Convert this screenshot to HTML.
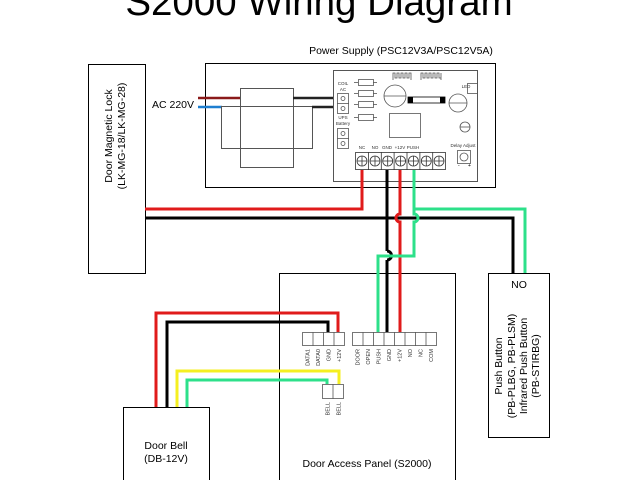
<!DOCTYPE html>
<html><head><meta charset="utf-8"><style>
html,body{margin:0;padding:0;background:#fff;}
svg{display:block;font-family:"Liberation Sans",Arial,sans-serif;}
</style></head><body>
<svg width="640" height="480" viewBox="0 0 640 480" xmlns="http://www.w3.org/2000/svg">
<rect width="640" height="480" fill="#fff"/>
<text x="319" y="15" font-size="38.5" text-anchor="middle" fill="#000">S2000 Wiring Diagram</text>
<text x="401" y="54" font-size="10.5" text-anchor="middle" fill="#000">Power Supply (PSC12V3A/PSC12V5A)</text>

<!-- Lock -->
<rect x="88.5" y="64.5" width="57" height="209" fill="#fff" stroke="#000" stroke-width="1"/>
<g transform="translate(116,136) rotate(-90)" font-size="10.5" text-anchor="middle">
<text x="0" y="-4">Door Magnetic Lock</text>
<text x="0" y="9">(LK-MG-18/LK-MG-28)</text>
</g>

<!-- Power supply -->
<rect x="205.5" y="63.5" width="290" height="124" fill="#fff" stroke="#000" stroke-width="1"/>
<text x="152" y="108" font-size="10.5">AC 220V</text>
<line x1="198" y1="98" x2="240" y2="98" stroke="#8b1a1a" stroke-width="2.5"/>
<line x1="198" y1="107" x2="222" y2="107" stroke="#1e7fd0" stroke-width="2.5"/>
<rect x="240.5" y="88.5" width="53" height="79" fill="none" stroke="#555" stroke-width="1"/>
<rect x="221.5" y="106.5" width="91" height="42" fill="none" stroke="#555" stroke-width="1"/>
<line x1="293" y1="98" x2="338" y2="98" stroke="#222" stroke-width="2.5"/>
<line x1="312" y1="107" x2="338" y2="107" stroke="#222" stroke-width="2.5"/>

<!-- PCB -->
<rect x="333.5" y="70.5" width="144" height="111" fill="#fff" stroke="#555" stroke-width="1"/>
<g font-size="4.5" text-anchor="middle" fill="#333">
<text x="343" y="85">COIL</text><text x="343" y="91">AC</text>
<text x="343" y="119">UPS</text><text x="343" y="125">Battery</text>
<text x="466" y="88">LED</text>
<text x="463" y="147">Delay Adjust</text>
<text x="426" y="102">FUSE</text>
<text x="362" y="149">NC</text><text x="375" y="149">NO</text><text x="387" y="149">GND</text><text x="400" y="149">+12V</text><text x="413" y="149">PUSH</text>
</g>
<g fill="none" stroke="#555" stroke-width="0.8">
<rect x="337.5" y="93.5" width="11" height="20"/><line x1="337" y1="103.5" x2="349" y2="103.5"/>
<circle cx="343" cy="98.5" r="2"/><circle cx="343" cy="108.5" r="2"/>
<rect x="337.5" y="128.5" width="11" height="20"/><line x1="337" y1="138.5" x2="349" y2="138.5"/>
<circle cx="343" cy="133.5" r="2"/><circle cx="343" cy="143.5" r="2"/>
<rect x="358.5" y="79.5" width="15" height="6"/><rect x="358.5" y="90.5" width="15" height="6"/>
<rect x="358.5" y="101.5" width="15" height="6"/><rect x="358.5" y="114.5" width="15" height="6"/>
<line x1="354" y1="82.5" x2="358" y2="82.5"/><line x1="373" y1="82.5" x2="377" y2="82.5"/>
<line x1="354" y1="93.5" x2="358" y2="93.5"/><line x1="373" y1="93.5" x2="377" y2="93.5"/>
<line x1="354" y1="104.5" x2="358" y2="104.5"/><line x1="373" y1="104.5" x2="377" y2="104.5"/>
<line x1="354" y1="117.5" x2="358" y2="117.5"/><line x1="373" y1="117.5" x2="377" y2="117.5"/>
<circle cx="395" cy="96" r="11"/><line x1="384" y1="96" x2="406" y2="96"/>
<circle cx="458" cy="103" r="9"/><line x1="449" y1="103" x2="467" y2="103"/>
<circle cx="465" cy="127" r="5"/><line x1="460" y1="127" x2="470" y2="127"/>
<rect x="467.5" y="83.5" width="10" height="10"/>
<rect x="389.5" y="113.5" width="31" height="24"/>
<rect x="457.5" y="150.5" width="13" height="13"/><circle cx="464" cy="157" r="4"/>
<path d="M393 80 V73 h2 v5 h2 v-5 h2 v5 h2 v-5 h2 v5 h2 v-5 h2 v5 h2 v-5 h2 v7 M421 80 V73 h2 v5 h2 v-5 h2 v5 h2 v-5 h2 v5 h2 v-5 h2 v5 h2 v-5 h2 v5 h2 v-5 v7"/>
</g>
<rect x="408" y="97" width="37" height="6" fill="#fff" stroke="#000" stroke-width="0.8"/>
<rect x="408" y="97" width="5" height="6" fill="#000"/><rect x="440" y="97" width="5" height="6" fill="#000"/>
<text x="458" y="167" font-size="5">-</text><text x="468" y="167" font-size="5">+</text>
<g fill="#fff" stroke="#333" stroke-width="0.8">
<rect x="355.5" y="152.5" width="90" height="17"/>
</g>
<g fill="none" stroke="#333" stroke-width="0.8">
<line x1="368.4" y1="152" x2="368.4" y2="170"/><line x1="381.3" y1="152" x2="381.3" y2="170"/><line x1="394.1" y1="152" x2="394.1" y2="170"/><line x1="407" y1="152" x2="407" y2="170"/><line x1="419.9" y1="152" x2="419.9" y2="170"/><line x1="432.7" y1="152" x2="432.7" y2="170"/>
<circle cx="362" cy="161" r="5"/><circle cx="375" cy="161" r="5"/><circle cx="387.7" cy="161" r="5"/><circle cx="400.6" cy="161" r="5"/><circle cx="413.4" cy="161" r="5"/><circle cx="426.3" cy="161" r="5"/><circle cx="439" cy="161" r="5"/>
<path d="M357 161h10M362 156v10M370 161h10M375 156v10M382.7 161h10M387.7 156v10M395.6 161h10M400.6 156v10M408.4 161h10M413.4 156v10M421.3 161h10M426.3 156v10M434 161h10M439 156v10"/>
</g>

<!-- Push button -->
<rect x="488.5" y="273.5" width="61" height="164" fill="#fff" stroke="#000" stroke-width="1"/>
<text x="519" y="288" font-size="10.5" text-anchor="middle">NO</text>
<g transform="translate(516,366) rotate(-90)" font-size="10.5" text-anchor="middle">
<text x="0" y="-14">Push Button</text>
<text x="0" y="-1">(PB-PLBG, PB-PLSM)</text>
<text x="0" y="11">Infrared Push Button</text>
<text x="0" y="23">(PB-STIRBG)</text>
</g>

<!-- Access panel -->
<rect x="279.5" y="273.5" width="176" height="220" fill="#fff" stroke="#000" stroke-width="1"/>
<text x="367" y="467" font-size="10.5" text-anchor="middle">Door Access Panel (S2000)</text>
<g fill="#fff" stroke="#555" stroke-width="0.8">
<rect x="352.5" y="332.5" width="84" height="13"/>
<rect x="302.5" y="332.5" width="42" height="13"/>
<rect x="322.5" y="384.5" width="21" height="14"/>
</g>
<g stroke="#555" stroke-width="0.8">
<line x1="363" y1="332" x2="363" y2="346"/><line x1="373.5" y1="332" x2="373.5" y2="346"/><line x1="384" y1="332" x2="384" y2="346"/><line x1="394.5" y1="332" x2="394.5" y2="346"/><line x1="405" y1="332" x2="405" y2="346"/><line x1="415.5" y1="332" x2="415.5" y2="346"/><line x1="426" y1="332" x2="426" y2="346"/>
<line x1="313" y1="332" x2="313" y2="346"/><line x1="323.5" y1="332" x2="323.5" y2="346"/><line x1="334" y1="332" x2="334" y2="346"/>
<line x1="333" y1="384" x2="333" y2="399"/>
</g>
<g font-size="5.5" fill="#333">
<text transform="translate(359.5,349) rotate(-90)" text-anchor="end">DOOR</text>
<text transform="translate(370,349) rotate(-90)" text-anchor="end">OPEN</text>
<text transform="translate(380.5,349) rotate(-90)" text-anchor="end">PUSH</text>
<text transform="translate(391,349) rotate(-90)" text-anchor="end">GND</text>
<text transform="translate(401.5,349) rotate(-90)" text-anchor="end">+12V</text>
<text transform="translate(412,349) rotate(-90)" text-anchor="end">NO</text>
<text transform="translate(422.5,349) rotate(-90)" text-anchor="end">NC</text>
<text transform="translate(433,349) rotate(-90)" text-anchor="end">COM</text>
<text transform="translate(309.5,349) rotate(-90)" text-anchor="end">DATA1</text>
<text transform="translate(320,349) rotate(-90)" text-anchor="end">DATA0</text>
<text transform="translate(330.5,349) rotate(-90)" text-anchor="end">GND</text>
<text transform="translate(341,349) rotate(-90)" text-anchor="end">+12V</text>
<text transform="translate(329.5,402) rotate(-90)" text-anchor="end">BELL</text>
<text transform="translate(340.5,402) rotate(-90)" text-anchor="end">BELL</text>
</g>

<!-- Door bell -->
<rect x="123.5" y="407.5" width="86" height="80" fill="#fff" stroke="#000" stroke-width="1"/>
<text x="166" y="449" font-size="10.5" text-anchor="middle">Door Bell</text>
<text x="166" y="462" font-size="10.5" text-anchor="middle">(DB-12V)</text>

<!-- Wires -->
<g fill="none" stroke-width="3" stroke-linejoin="miter">
<path d="M362 170 V209 H145" stroke="#e01b1b"/>
<path d="M145 218 H513 V273" stroke="#000"/>
<path d="M387 170 V251 M387 260 V332" stroke="#000"/>
<path d="M387 251 A4.5 4.5 0 0 1 387 260" stroke="#000"/>
<path d="M400 170 V214 A4 4 0 0 0 400 222 V332" stroke="#e01b1b"/>
<path d="M414 170 V214 A4 4 0 0 1 414 222 V256 H378 V332" stroke="#2de08a"/>
<path d="M414 209 H525 V273" stroke="#2de08a"/>
<path d="M156 407 V313 H338 V332" stroke="#e01b1b"/>
<path d="M167 407 V322 H328 V332" stroke="#000"/>
<path d="M177 407 V371 H339 V384" stroke="#f5ef20"/>
<path d="M187 407 V380 H327 V384" stroke="#2de08a"/>
</g>
</svg>
</body></html>
